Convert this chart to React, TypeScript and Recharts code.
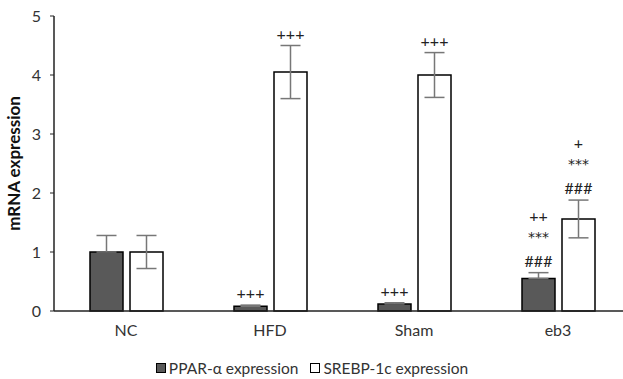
import React from 'react';
import { BarChart, Bar, XAxis, YAxis, ErrorBar, LabelList, Legend } from 'recharts';

const groups = ['NC', 'HFD', 'Sham', 'eb3'];
const pparValues = [1.0, 0.08, 0.12, 0.55];
const pparErrors = [0.28, 0.02, 0.02, 0.1];
const srebpValues = [1.0, 4.05, 4.0, 1.56];
const srebpErrors = [0.28, 0.45, 0.38, 0.32];
const pparNotes = [[], ['+++'], ['+++'], ['###', '***', '++']];
const srebpNotes = [[], ['+++'], ['+++'], ['###', '***', '+']];
const yTicks = [0, 1, 2, 3, 4, 5];

const data = groups.map((name, i) => ({
  name,
  ppar: pparValues[i],
  pparErr: pparErrors[i],
  srebp: srebpValues[i],
  srebpErr: srebpErrors[i],
}));

const FONT = 'Lato, "Open Sans", sans-serif';
const lineOffsets = [0, 26, 45];

const makeNotes = (notes: string[][], errors: number[]) => (props: any) => {
  const { x, y, width, height, value, index } = props;
  const lines = notes[index] || [];
  if (!lines.length || !value) return null;
  const ppu = Number(height) / Number(value);
  const errTop = Number(y) - errors[index] * ppu;
  const cx = Number(x) + Number(width) / 2;
  return (
    <g>
      {lines.map((t, k) => {
        const star = t.startsWith('*');
        return (
          <text
            key={k}
            x={cx}
            y={errTop - 6 - lineOffsets[k] + (star ? 1 : 0)}
            textAnchor="middle"
            fontSize={star ? 14 : 16}
            fontFamily={star ? '"DejaVu Sans", sans-serif' : FONT}
            fill="#222"
          >
            {t}
          </text>
        );
      })}
    </g>
  );
};

const LegendContent = () => (
  <div
    style={{
      display: 'flex',
      justifyContent: 'center',
      gap: 12,
      height: 28,
      paddingTop: 6,
      boxSizing: 'border-box',
      fontFamily: FONT,
      fontSize: 15.5,
      color: '#333',
      paddingRight: 6,
    }}
  >
    <span style={{ display: 'inline-flex', alignItems: 'center', gap: 3 }}>
      <span style={{ width: 8, height: 8, background: '#595959', border: '1px solid #000' }} />
      PPAR-α expression
    </span>
    <span style={{ display: 'inline-flex', alignItems: 'center', gap: 3 }}>
      <span style={{ width: 8, height: 8, background: '#fff', border: '1px solid #000' }} />
      SREBP-1c expression
    </span>
  </div>
);

export default function App() {
  return (
    <div
      style={{
        position: 'absolute',
        left: 0,
        top: 0,
        width: 623,
        height: 379,
        overflow: 'hidden',
        background: '#fff',
      }}
    >
      <BarChart
        width={630}
        height={379}
        data={data}
        margin={{ top: 16, right: 0, left: 0, bottom: 0 }}
        barSize={33}
        barGap={7}
      >
        <XAxis
          dataKey="name"
          axisLine={{ stroke: '#222', strokeWidth: 1.5 }}
          tickLine={false}
          tickSize={6}
          tickMargin={8}
          height={40}
          tick={{ fill: '#333', fontSize: 16, fontFamily: FONT }}
        />
        <YAxis
          width={54}
          domain={[0, 5]}
          ticks={yTicks}
          interval={0}
          axisLine={{ stroke: '#222', strokeWidth: 1.5 }}
          tickLine={{ stroke: '#222' }}
          tickSize={4}
          tickMargin={9}
          tick={{ fill: '#333', fontSize: 16, fontFamily: FONT }}
          label={{
            value: 'mRNA expression',
            angle: -90,
            position: 'insideLeft',
            offset: 14,
            style: { textAnchor: 'middle', fontWeight: 'bold', fontSize: 17, fontFamily: FONT, fill: '#111' },
          }}
        />
        <Legend verticalAlign="bottom" height={28} content={<LegendContent />} />
        <Bar dataKey="ppar" fill="#595959" stroke="#000" strokeWidth={1.5} isAnimationActive={false}>
          <ErrorBar
            dataKey={(d: any) => [0, d.pparErr]}
            width={10}
            stroke="#777"
            strokeWidth={1.5}
            isAnimationActive={false}
          />
          <LabelList dataKey="ppar" content={makeNotes(pparNotes, pparErrors)} />
        </Bar>
        <Bar dataKey="srebp" fill="#fff" stroke="#000" strokeWidth={1.5} isAnimationActive={false}>
          <ErrorBar dataKey="srebpErr" width={10} stroke="#777" strokeWidth={1.5} isAnimationActive={false} />
          <LabelList dataKey="srebp" content={makeNotes(srebpNotes, srebpErrors)} />
        </Bar>
      </BarChart>
    </div>
  );
}
